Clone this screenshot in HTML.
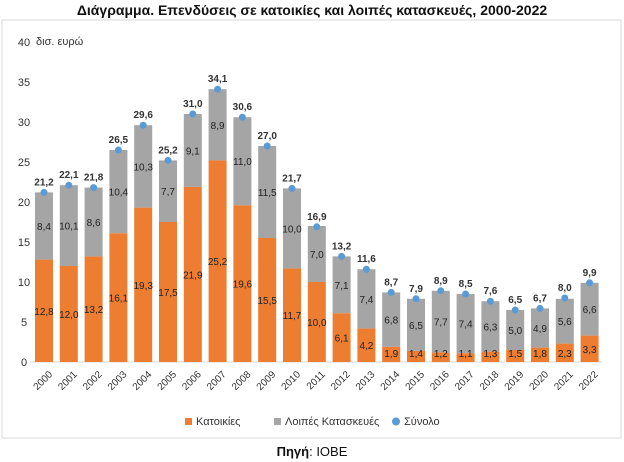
<!DOCTYPE html>
<html><head><meta charset="utf-8"><style>
body{margin:0;background:#fff;width:624px;height:462px;overflow:hidden;font-family:"Liberation Sans",sans-serif}
</style></head><body>
<svg id="c" width="624" height="462" style="position:absolute;left:0;top:0">
<text x="312" y="15" text-anchor="middle" font-size="14" font-weight="bold" fill="#111">Διάγραμμα. Επενδύσεις σε κατοικίες και λοιπές κατασκευές, 2000-2022</text>
<rect x="2" y="20" width="619" height="418" fill="none" stroke="#d9d9d9"/>
<text x="36" y="45" font-size="11" fill="#333">δισ. ευρώ</text>
<g id="yax"></g><g id="bars"></g><g id="xl"></g>
<g>
<rect x="185" y="418" width="7" height="7" fill="#ed7d31"/>
<text x="196" y="425" font-size="11" fill="#333">Κατοικίες</text>
<rect x="274" y="418" width="7" height="7" fill="#a5a5a5"/>
<text x="285" y="425" font-size="11" fill="#333">Λοιπές Κατασκευές</text>
<circle cx="396" cy="421.5" r="4" fill="#5b9bd5"/>
<text x="404" y="425" font-size="11" fill="#333">Σύνολο</text>
</g>
<text x="312" y="456" text-anchor="middle" font-size="13" fill="#111"><tspan font-weight="bold">Πηγή</tspan>: ΙΟΒΕ</text>
</svg>
<script>
const years=["2000","2001","2002","2003","2004","2005","2006","2007","2008","2009","2010","2011","2012","2013","2014","2015","2016","2017","2018","2019","2020","2021","2022"];
const housing=[12.8,12.0,13.2,16.1,19.3,17.5,21.9,25.2,19.6,15.5,11.7,10.0,6.1,4.2,1.9,1.4,1.2,1.1,1.3,1.5,1.8,2.3,3.3];
const other=[8.4,10.1,8.6,10.4,10.3,7.7,9.1,8.9,11.0,11.5,10.0,7.0,7.1,7.4,6.8,6.5,7.7,7.4,6.3,5.0,4.9,5.6,6.6];
const total=[21.2,22.1,21.8,26.5,29.6,25.2,31.0,34.1,30.6,27.0,21.7,16.9,13.2,11.6,8.7,7.9,8.9,8.5,7.6,6.5,6.7,8.0,9.9];
const yTicks=[0,5,10,15,20,25,30,35,40];
const NS="http://www.w3.org/2000/svg";
const y0=362,y40=42,x0=44,step=24.8,bw=18;
const Y=v=>y0-(y0-y40)*v/40, X=i=>x0+i*step;
const fmt=v=>v.toFixed(1).replace('.',',');
function mk(t,a,p,txt){const e=document.createElementNS(NS,t);for(const k in a)e.setAttribute(k,a[k]);if(txt!==undefined)e.textContent=txt;p.appendChild(e);return e;}
const yax=document.getElementById('yax'),bars=document.getElementById('bars'),xl=document.getElementById('xl');
yTicks.forEach(t=>{const e=mk('text',{x:24,y:Y(t)+4,'text-anchor':'middle','font-size':11,fill:'#333'},yax,t);

});
const ax=mk('line',{x1:30,x2:602,y1:y0,y2:y0,stroke:'#d9d9d9'},yax);


years.forEach((yr,i)=>{
 const cx=X(i);
 const r1=mk('rect',{x:cx-bw/2,y:Y(housing[i]),width:bw,height:y0-Y(housing[i]),fill:'#ed7d31'},bars);
 
 
 const top=housing[i]+other[i];
 const r2=mk('rect',{x:cx-bw/2,y:Y(top),width:bw,height:Y(housing[i])-Y(top),fill:'#a5a5a5'},bars);
 
 
 const c=mk('circle',{cx:cx,cy:Y(total[i]),r:3.5,fill:'#5b9bd5'},bars);
 
 
 const hy=housing[i]<3?Y(housing[i])+ (housing[i]<2? -1:9):Y(housing[i])+ (housing[i]>8?Math.min(40,(y0-Y(housing[i]))/2):10);
 const l1=mk('text',{x:cx,y:housing[i]<3?y0-5:Y(housing[i]/2)+4,'text-anchor':'middle','font-size':10,fill:'#222'},bars,fmt(housing[i]));
 
 
 const l2=mk('text',{x:cx,y:Y(housing[i]+other[i]/2)+4,'text-anchor':'middle','font-size':10,fill:'#222'},bars,fmt(other[i]));
 
 
 const l3=mk('text',{x:cx,y:Y(total[i])-7,'text-anchor':'middle','font-size':10,'font-weight':'bold',fill:'#333'},bars,fmt(total[i]));
 
 
 const xt=mk('text',{x:cx+4,y:y0+8,'text-anchor':'end','font-size':10,fill:'#333',transform:`rotate(-45 ${cx+4} ${y0+8})`,dy:'0.7em'},xl,yr);
 
 
});
</script>
</body></html>
